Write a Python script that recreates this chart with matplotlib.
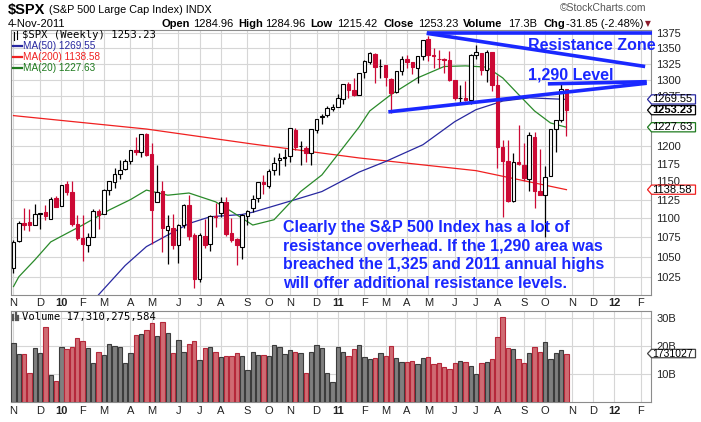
import datetime as dt
import numpy as np
import matplotlib
matplotlib.use('Agg')
import matplotlib.pyplot as plt
from matplotlib.patches import Polygon
from matplotlib.lines import Line2D
from matplotlib.ticker import NullLocator

plt.rcParams['font.family'] = ['Liberation Sans', 'DejaVu Sans']

# weekly candles, week 0 = week of 2-Nov-2009
opens = [1036.2, 1069.8, 1094.1, 1094.9, 1091.1, 1105.5, 1107.8, 1098.9, 1127.0, 1116.6,
         1146.0, 1136.0, 1092.4, 1073.9, 1065.5, 1075.9, 1110.0, 1105.4, 1138.4, 1148.5,
         1159.9, 1167.7, 1178.7, 1194.9, 1192.1, 1217.3, 1188.6, 1122.3, 1136.5, 1084.8,
         1087.3, 1064.9, 1091.2, 1117.7, 1077.5, 1022.1, 1077.2, 1066.6, 1102.9, 1107.5,
         1122.0, 1081.2, 1073.4, 1062.9, 1102.6, 1113.4, 1126.6, 1148.6, 1144.0, 1165.3,
         1180.5, 1184.7, 1185.7, 1223.2, 1200.0, 1196.8, 1189.4, 1223.2, 1242.5, 1245.8,
         1254.7, 1257.6, 1270.8, 1293.2, 1283.3, 1276.5, 1311.8, 1328.7, 1340.4, 1321.6,
         1322.7, 1301.2, 1281.7, 1314.5, 1332.7, 1328.6, 1319.1, 1337.1, 1365.2, 1340.2,
         1333.2, 1333.1, 1331.7, 1300.3, 1271.3, 1272.2, 1268.4, 1339.6, 1343.3, 1315.9,
         1344.3, 1292.6, 1198.5, 1178.9, 1123.1, 1177.9, 1173.6, 1153.5, 1214.0, 1136.9,
         1131.2, 1158.2, 1224.5, 1238.7, 1284.96]
highs = [1071.5, 1097.0, 1113.7, 1112.4, 1119.1, 1107.4, 1117.7, 1129.0, 1130.4, 1145.4,
         1150.4, 1150.5, 1103.7, 1104.7, 1080.0, 1112.4, 1112.4, 1139.0, 1151.0, 1169.2,
         1180.7, 1181.4, 1194.7, 1213.9, 1217.3, 1219.8, 1205.1, 1173.6, 1150.0, 1104.0,
         1105.7, 1093.0, 1119.1, 1131.2, 1080.8, 1080.0, 1099.1, 1103.7, 1120.0, 1129.2,
         1129.2, 1100.1, 1074.7, 1105.1, 1110.9, 1131.5, 1148.9, 1158.7, 1167.7, 1184.4,
         1189.5, 1196.1, 1227.1, 1227.1, 1207.4, 1200.3, 1225.6, 1240.4, 1246.7, 1259.3,
         1262.6, 1278.2, 1293.2, 1296.1, 1302.7, 1311.0, 1330.8, 1344.1, 1342.2, 1332.3,
         1324.0, 1303.0, 1314.0, 1337.8, 1339.5, 1328.6, 1337.5, 1364.6, 1370.6, 1351.0,
         1346.8, 1334.0, 1345.2, 1300.3, 1292.5, 1298.6, 1341.0, 1356.5, 1343.3, 1347.0,
         1345.0, 1307.4, 1208.5, 1208.5, 1190.7, 1230.7, 1204.4, 1220.1, 1220.4, 1195.9,
         1171.4, 1224.6, 1239.0, 1292.7, 1284.96]
lows = [1029.4, 1069.3, 1085.0, 1083.7, 1091.1, 1085.9, 1097.1, 1098.9, 1114.8, 1116.6,
        1131.4, 1090.2, 1071.6, 1044.5, 1056.5, 1075.9, 1086.0, 1105.4, 1131.4, 1141.0,
        1152.9, 1165.4, 1175.0, 1186.8, 1183.7, 1185.5, 1065.8, 1122.3, 1055.9, 1040.8,
        1060.0, 1042.2, 1087.0, 1071.0, 1010.9, 1018.4, 1061.0, 1056.9, 1088.0, 1101.9,
        1076.6, 1069.0, 1039.7, 1047.1, 1091.2, 1108.1, 1121.6, 1132.1, 1140.9, 1159.6,
        1158.3, 1171.0, 1177.7, 1194.1, 1173.0, 1176.8, 1173.6, 1218.7, 1232.8, 1242.3,
        1251.5, 1257.6, 1262.2, 1271.3, 1275.1, 1276.5, 1302.6, 1324.6, 1294.3, 1302.6,
        1291.0, 1249.1, 1278.7, 1307.6, 1318.8, 1309.7, 1294.7, 1331.6, 1329.2, 1318.5,
        1318.5, 1311.3, 1297.9, 1268.5, 1262.7, 1267.4, 1262.7, 1333.2, 1307.0, 1295.9,
        1282.9, 1168.1, 1101.5, 1121.1, 1121.1, 1172.9, 1150.1, 1136.2, 1114.2, 1131.1,
        1074.8, 1158.2, 1191.5, 1234.8, 1215.42]
closes = [1069.3, 1093.5, 1091.4, 1091.3, 1106.0, 1106.4, 1102.5, 1126.5, 1115.1, 1145.0,
          1136.0, 1091.8, 1073.9, 1066.2, 1075.5, 1109.2, 1104.5, 1138.7, 1150.0, 1159.9,
          1166.6, 1178.1, 1194.4, 1192.1, 1217.3, 1186.7, 1110.9, 1135.7, 1087.7, 1089.4,
          1064.9, 1091.6, 1117.5, 1076.8, 1022.6, 1078.0, 1064.9, 1102.7, 1101.6, 1121.6,
          1079.3, 1071.7, 1064.6, 1104.5, 1109.6, 1125.6, 1148.7, 1146.2, 1165.2, 1176.2,
          1183.1, 1183.3, 1225.9, 1199.2, 1199.7, 1189.4, 1224.7, 1240.4, 1243.9, 1256.8,
          1257.6, 1271.5, 1293.2, 1283.4, 1276.3, 1310.9, 1329.2, 1343.0, 1319.9, 1321.2,
          1304.3, 1279.2, 1313.8, 1332.4, 1328.2, 1319.7, 1337.4, 1363.6, 1340.2, 1337.8,
          1333.3, 1331.1, 1300.2, 1271.0, 1271.5, 1268.5, 1339.7, 1343.8, 1316.1, 1345.0,
          1292.3, 1199.4, 1178.8, 1123.5, 1176.8, 1174.0, 1154.2, 1216.0, 1136.4, 1131.4,
          1155.5, 1224.6, 1238.3, 1285.1, 1253.23]
# weekly volume, billions
volume = [21.0, 17.0, 17.0, 10.2, 19.2, 17.4, 26.7, 9.6, 7.5, 19.5,
          18.9, 19.5, 22.7, 21.8, 19.2, 13.8, 17.7, 16.8, 20.6, 20.0,
          19.5, 13.8, 17.4, 23.9, 24.2, 25.7, 28.1, 23.7, 28.7, 24.5,
          17.4, 22.1, 17.7, 20.6, 21.8, 15.0, 19.2, 19.5, 18.0, 16.0,
          16.3, 16.3, 17.4, 16.3, 11.4, 17.7, 16.8, 16.8, 16.3, 20.4,
          19.5, 17.1, 18.6, 17.7, 17.4, 10.2, 17.7, 20.4, 19.2, 10.2,
          7.3, 19.5, 17.7, 16.3, 18.8, 20.4, 16.2, 15.4, 15.6, 17.4,
          16.3, 19.9, 15.6, 14.2, 14.4, 14.8, 13.5, 15.6, 16.0, 13.5,
          13.8, 12.4, 11.7, 13.8, 14.8, 14.4, 13.0, 9.9, 13.8, 14.4,
          15.2, 23.1, 30.2, 19.2, 18.8, 15.2, 13.8, 17.4, 19.5, 17.7,
          21.3, 15.2, 17.4, 18.5, 17.31]

# moving averages (week, value)
ma50_wk = [16, 21, 25, 33, 37, 43, 45, 53, 58, 65, 70, 77, 83, 87, 92, 97, 104]
ma50_val = [1003, 1039, 1063, 1093, 1102, 1105, 1108, 1125, 1136, 1163, 1178, 1202,
            1236, 1254, 1267, 1272, 1269.55]
ma200_wk = [0, 25, 45, 65, 87, 104]
ma200_val = [1245, 1225, 1203, 1183, 1165, 1138.58]
ma20_wk = [0, 1, 4, 7, 10, 13, 18, 22, 25, 29, 33, 38, 41, 45, 49, 54, 58, 61, 65, 67,
           71, 76, 81, 85, 89, 92, 95, 98, 101, 104]
ma20_val = [1013, 1025, 1046, 1069, 1080, 1091, 1111, 1125, 1138, 1131, 1134, 1122, 1109,
            1091, 1098, 1136, 1159, 1188, 1228, 1252, 1277, 1303, 1321, 1322, 1320, 1303,
            1277, 1252, 1234, 1227.63]

# hand-drawn trend lines (week, price)
res_top = ([77.7, 120.0], [1375, 1375])
res_down = ([77.7, 118.8], [1375, 1321])
lvl_low = ([70.5, 119.1], [1250.6, 1294.6])
lvl_290 = ([100.5, 119.1], [1293.6, 1297])

note_lines = ["Clearly the S&P 500 Index has a lot of",
              "resistance overhead. If the 1,290 area was",
              "breached the 1,325 and 2011 annual highs",
              "will offer additional resistance levels."]

# price labels hidden under the value tags on the original
hidden_price_labels = [1225, 1250]

W, H = 701, 422
RED = '#cc0a35'
BLUE = '#1a28ff'
fig = plt.figure(figsize=(W / 100, H / 100), dpi=100)


def ftext(x, y, s, **kw):
    kw.setdefault('va', 'center')
    kw.setdefault('ha', 'left')
    fig.text(x / W, 1 - y / H, s, **kw)


def fline(xs, ys, **kw):
    fig.add_artist(Line2D([x / W for x in xs], [1 - y / H for y in ys],
                          transform=fig.transFigure, **kw))


ax = fig.add_axes([11 / W, 1 - 295 / H, 640 / W, 265.5 / H])
axv = fig.add_axes([11 / W, 1 - 402 / H, 640 / W, 91 / H])

# month ticks at the first weekly bar of each month
start = dt.date(2009, 11, 2)
ticks, tlabels = [], []
prev = None
for k in range(121):
    d = start + dt.timedelta(weeks=k)
    if d.month != prev:
        ticks.append(k)
        tlabels.append('%02d' % (d.year % 100) if d.month == 1 else d.strftime('%b')[0])
    prev = d.month

x = np.arange(len(closes))
o = np.array(opens)
c = np.array(closes)
prev_c = np.r_[o[0], c[:-1]]
down = c < prev_c
col = np.where(down, RED, 'black')

for a in (ax, axv):
    a.set_xlim(-0.47, 119.9)
    a.set_xticks(ticks)
    a.set_xticklabels(tlabels)
    a.tick_params(axis='x', length=0, labelsize=8, colors='#222222')
    a.tick_params(axis='y', length=0, labelsize=8, pad=4, colors='#222222')
    a.yaxis.tick_right()
    a.grid(True, color='#d6d6d6', lw=0.8)
    a.set_axisbelow(True)
    for s in a.spines.values():
        s.set_color('#8c8c8c')
        s.set_linewidth(0.8)
    for lab in a.get_xticklabels():
        if lab.get_text().isdigit():
            lab.set_fontweight('bold')
ax.tick_params(axis='x', pad=2)
axv.tick_params(axis='x', pad=3)

# price panel
ax.set_yscale('log')
ax.set_ylim(1002.7, 1381.3)
pt = np.arange(1025, 1376, 25)
ax.set_yticks(pt)
ax.set_yticklabels(['' if v in hidden_price_labels else str(v) for v in pt])
ax.yaxis.set_minor_locator(NullLocator())

ax.vlines(x, lows, highs, colors=col, lw=0.9, zorder=3)
body_lo = np.minimum(o, c)
body_h = np.abs(c - o)
face = np.where(c > o, 'white', col)
ax.bar(x, body_h, bottom=body_lo, width=0.66, color=face, edgecolor=col, lw=0.8, zorder=4)

ax.plot(ma200_wk, ma200_val, color='#f02020', lw=0.9, zorder=2)
ax.plot(ma50_wk, ma50_val, color='#2828a0', lw=0.9, zorder=2)
ax.plot(ma20_wk, ma20_val, color='#2a8a2a', lw=0.9, zorder=2)

for xs, ys in (res_top, res_down, lvl_low, lvl_290):
    ax.plot(xs, ys, color=BLUE, lw=2.6, solid_capstyle='butt', zorder=6, clip_on=False)

# volume panel
vcol = np.where(down, '#cf6b73', '#7f7f7f')
vedge = np.where(down, '#b5283a', '#3c3c3c')
axv.bar(x, volume, width=0.82, color=vcol, edgecolor=vedge, lw=0.8, zorder=3)
axv.set_ylim(0, 32.5)
axv.set_yticks([10, 20, 30])
axv.set_yticklabels(['10B', '20B', '30B'])

# header
ftext(8, 10, '$SPX', fontsize=10.5, fontweight='bold')
ftext(49, 10, '(S&P 500 Large Cap Index) INDX', fontsize=7.8)
ftext(8, 24, '4-Nov-2011', fontsize=8)
ftext(560, 8, '\u00a9StockCharts.com', fontsize=7.5, color='#555555')
stats = [(162, 'Open', True), (193, '1284.96', False), (238, 'High', True),
         (265, '1284.96', False), (310, 'Low', True), (337, '1215.42', False),
         (383, 'Close', True), (418, '1253.23', False), (463, 'Volume', True),
         (508, '17.3B', False), (543, 'Chg', True), (566, '-31.85 (-2.48%)', False)]
for sx, st, b in stats:
    ftext(sx, 24, st, fontsize=8, fontweight='bold' if b else 'normal')
ftext(645, 24, '\u25bc', fontsize=5.5, color='#8b1a2b', family='DejaVu Sans')

# legend
for bx, by0, by1 in ((14, 32, 40), (17, 31, 39)):
    fline([bx, bx], [by0, by1], color='black', lw=0.8)
ftext(22, 35, '$SPX (Weekly) 1253.23', fontsize=7.6, family='DejaVu Sans Mono')
for ly, name, lc in ((46, 'MA(50) 1269.55', '#2828a0'), (57, 'MA(200) 1138.58', '#f02020'),
                     (68, 'MA(20) 1227.63', '#1e7a1e')):
    fline([13, 22], [ly, ly], color=lc, lw=1.6)
    ftext(23, ly, name, fontsize=7.2, color=lc)
for bx, bh in ((13, 5), (15.5, 7), (18, 4)):
    fline([bx, bx], [320, 320 - bh], color='#555555', lw=1.6)
ftext(22, 317, 'Volume 17,310,275,584', fontsize=7.6, family='DejaVu Sans Mono')

# annotations
ftext(528, 45, 'Resistance Zone', fontsize=11.5, fontweight='bold', color=BLUE)
ftext(528, 74.5, '1,290 Level', fontsize=11.5, fontweight='bold', color=BLUE)
for k, line in enumerate(note_lines):
    ftext(283, 227.5 + 18.6 * k, line, fontsize=11.5, fontweight='bold', color=BLUE)


def tag(a, val, label, ec, bold=False, size=8, h=4.6):
    ypx = a.transData.transform((0, val))[1]
    x0, x1 = 647.5, 695.5
    pts = [(x0, ypx), (x0 + 4, ypx + h), (x1, ypx + h), (x1, ypx - h), (x0 + 4, ypx - h)]
    fig.add_artist(Polygon([(px / W, py / H) for px, py in pts], closed=True,
                           transform=fig.transFigure, fc='white', ec=ec, lw=0.9, zorder=5))
    fig.text(652.5 / W, ypx / H, label, va='center', ha='left', fontsize=size,
             fontweight='bold' if bold else 'normal', zorder=6)


tag(ax, ma50_val[-1], '1269.55', '#2828a0')
tag(ax, closes[-1], '1253.23', 'black', bold=True)
tag(ax, ma20_val[-1], '1227.63', '#1e7a1e')
tag(ax, ma200_val[-1], '1138.58', '#f02020')
tag(axv, volume[-1], '1731027', '#444444', size=7.5, h=4.2)

fig.savefig('out.png', dpi=100)
